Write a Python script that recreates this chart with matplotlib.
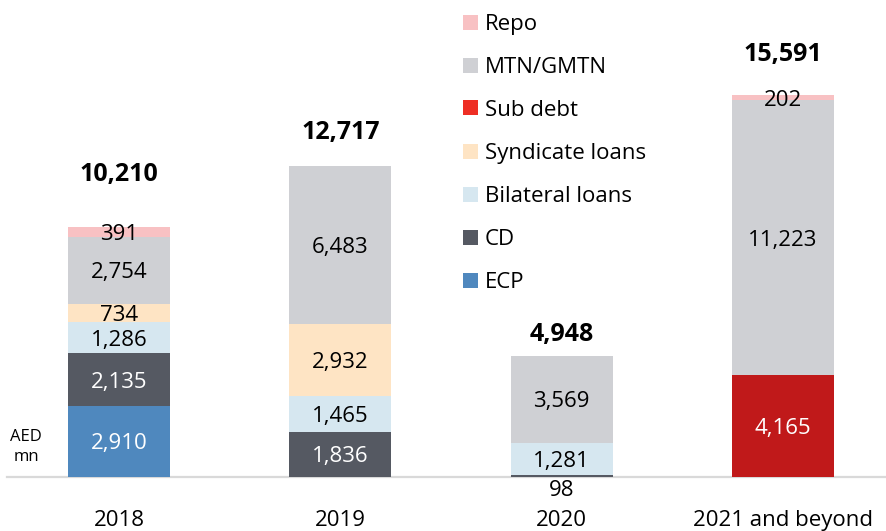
import matplotlib
matplotlib.use("Agg")
import matplotlib.pyplot as plt
from matplotlib.patches import Rectangle

# ---------------- data ----------------
categories = ["2018", "2019", "2020", "2021 and beyond"]
series_names = ["ECP", "CD", "Bilateral loans", "Syndicate loans", "Sub debt", "MTN/GMTN", "Repo"]
ecp = [2910, 0, 0, 0]
cd = [2135, 1836, 98, 0]
bilateral = [1286, 1465, 1281, 0]
syndicate = [734, 2932, 0, 0]
sub_debt = [0, 0, 0, 4165]
mtn = [2754, 6483, 3569, 11223]
repo = [391, 0, 0, 202]
totals = [10210, 12717, 4948, 15591]
unit_label = "AED\nmn"

# ---------------- style ----------------
series_values = [ecp, cd, bilateral, syndicate, sub_debt, mtn, repo]
bar_colors = ["#4F88BE", "#555962", "#D6E7F0", "#FEE4C4", "#C0191A", "#CFD0D4", "#F8C1C3"]
legend_colors = ["#4F88BE", "#555962", "#D6E7F0", "#FEE4C4", "#EE2E24", "#CFD0D4", "#F8C1C3"]
text_colors = ["white", "white", "black", "black", "white", "black", "black"]
total_offsets_px = [55, 35, 24, 43]

plt.rcParams['font.family'] = ['Open Sans', 'DejaVu Sans']

W, H = 887, 531
CAP = 0.714  # cap height / em for Open Sans


def half_cap(fs_pt):
    return fs_pt * 100 / 72 * CAP / 2


fig = plt.figure(figsize=(W / 100, H / 100), dpi=100)
base_px = 54
ax = fig.add_axes([0, base_px / H, 1, 1 - base_px / H])
spacing = 221.3
x0 = -119 / spacing
x1 = 3 + (W - 783) / spacing
ax.set_xlim(x0, x1)
scale = 0.02449
ax.set_ylim(0, (H - base_px) / scale)
ax.axis("off")

FS = 16
bar_w = 102 / spacing
xs = list(range(len(categories)))
bottoms = [0] * len(categories)
for s, vals in enumerate(series_values):
    ax.bar(xs, vals, width=bar_w, bottom=bottoms, color=bar_colors[s], zorder=2, linewidth=0)
    for i, v in enumerate(vals):
        if v <= 0:
            continue
        if v < 150 and s == 1:
            # tiny CD segment: label beneath the axis
            ax.annotate(f"{v:,}", xy=(i, 0), xytext=(0, -11 - half_cap(FS)), textcoords="offset pixels",
                        ha="center", va="baseline", fontsize=FS, color="black", annotation_clip=False)
        else:
            ax.annotate(f"{v:,}", xy=(i, bottoms[i] + v / 2), xytext=(0, -half_cap(FS)),
                        textcoords="offset pixels", ha="center", va="baseline",
                        fontsize=FS, color=text_colors[s], zorder=3)
    bottoms = [b + v for b, v in zip(bottoms, vals)]

# baseline
ax.axhline(0, xmin=7 / W, xmax=1, color="#D9D9D9", lw=1.6, zorder=1, clip_on=False)

# totals
TFS = 18
for i, t in enumerate(totals):
    ax.annotate(f"{t:,}", xy=(i, t), xytext=(0, total_offsets_px[i] - half_cap(TFS)),
                textcoords="offset pixels", ha="center", va="baseline", fontsize=TFS,
                fontweight="bold", color="black", annotation_clip=False)

# category labels
for i, c in enumerate(categories):
    ax.annotate(c, xy=(i, 0), xycoords=("data", "figure pixels"),
                xytext=(i, H - 518 - half_cap(FS)),
                textcoords=("data", "figure pixels"), ha="center", va="baseline", fontsize=FS,
                annotation_clip=False)

# unit label
fig.text(26 / W, 1 - 447 / H, unit_label, ha="center", va="center", fontsize=12,
         linespacing=1.4)

# legend (manual, top to bottom: reverse series order)
for k, s in enumerate(reversed(range(len(series_names)))):
    yc = 22 + 43 * k
    fig.patches.append(Rectangle((463 / W, 1 - (yc + 7.5) / H), 15 / W, 15 / H,
                                 transform=fig.transFigure, color=legend_colors[s], linewidth=0))
    fig.text(485 / W, 1 - (yc + half_cap(FS)) / H, series_names[s], ha="left", va="baseline",
             fontsize=FS)

fig.savefig("out.png", dpi=100)
